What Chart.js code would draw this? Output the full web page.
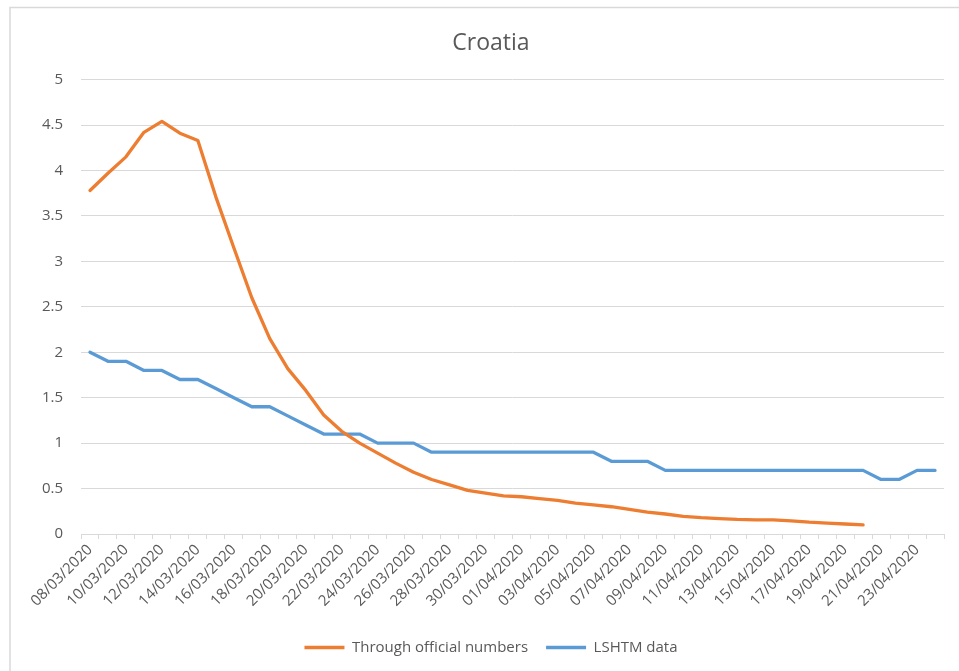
<!DOCTYPE html>
<html>
<head>
<meta charset="utf-8">
<script src="https://cdn.jsdelivr.net/npm/chart.js@4/dist/chart.umd.min.js"></script>
<style>
	html, body { margin: 0; padding: 0; background: #fff; }
	#wrap { width: 959px; height: 671px; }
</style>
</head>
<body>
<div id="wrap"><canvas id="chart" width="959" height="671"></canvas></div>
<script>
// ---- Data ----
const DATES = [
	"08/03/2020", "09/03/2020", "10/03/2020", "11/03/2020", "12/03/2020", "13/03/2020",
	"14/03/2020", "15/03/2020", "16/03/2020", "17/03/2020", "18/03/2020", "19/03/2020",
	"20/03/2020", "21/03/2020", "22/03/2020", "23/03/2020", "24/03/2020", "25/03/2020",
	"26/03/2020", "27/03/2020", "28/03/2020", "29/03/2020", "30/03/2020", "31/03/2020",
	"01/04/2020", "02/04/2020", "03/04/2020", "04/04/2020", "05/04/2020", "06/04/2020",
	"07/04/2020", "08/04/2020", "09/04/2020", "10/04/2020", "11/04/2020", "12/04/2020",
	"13/04/2020", "14/04/2020", "15/04/2020", "16/04/2020", "17/04/2020", "18/04/2020",
	"19/04/2020", "20/04/2020", "21/04/2020", "22/04/2020", "23/04/2020", "24/04/2020",
];

const OFFICIAL = [
	3.78, 3.97, 4.15, 4.42, 4.54, 4.41, 4.33, 3.71, 3.15, 2.6,
	2.15, 1.82, 1.58, 1.31, 1.13, 1.0, 0.89, 0.78, 0.68, 0.6,
	0.54, 0.48, 0.45, 0.42, 0.41, 0.39, 0.37, 0.34, 0.32, 0.3,
	0.27, 0.24, 0.22, 0.195, 0.18, 0.17, 0.16, 0.155, 0.155, 0.145,
	0.13, 0.12, 0.11, 0.1, null, null, null, null,
];

const LSHTM = [
	2.0, 1.9, 1.9, 1.8, 1.8, 1.7, 1.7, 1.6, 1.5, 1.4,
	1.4, 1.3, 1.2, 1.1, 1.1, 1.1, 1.0, 1.0, 1.0, 0.9,
	0.9, 0.9, 0.9, 0.9, 0.9, 0.9, 0.9, 0.9, 0.9, 0.8,
	0.8, 0.8, 0.7, 0.7, 0.7, 0.7, 0.7, 0.7, 0.7, 0.7,
	0.7, 0.7, 0.7, 0.7, 0.6, 0.6, 0.7, 0.7,
];

const TITLE = "Croatia";
const SERIES_NAMES = ["Through official numbers", "LSHTM data"];
const Y_MIN = 0;
const Y_MAX = 5;
const Y_STEP = 0.5;

// ---- Style ----
const FONT = "'Open Sans', 'DejaVu Sans', sans-serif";
const TEXT = "#595959";
const GRID = "#d9d9d9";
const ORANGE = "#ED7D31";
const BLUE = "#5B9BD5";

// borde del area del grafico (solo se ve arriba y a la izquierda)
const chartBorder = {
	id: "chartBorder",
	beforeDraw(chart) {
		const ctx = chart.ctx;
		ctx.save();
		ctx.fillStyle = "#fff";
		ctx.fillRect(0, 0, chart.width, chart.height);
		ctx.strokeStyle = GRID;
		ctx.lineWidth = 1.5;
		ctx.beginPath();
		ctx.moveTo(10, chart.height);
		ctx.lineTo(10, 7.5);
		ctx.lineTo(chart.width, 7.5);
		ctx.stroke();
		ctx.restore();
	},
};

const lineDs = (label, data, color) => ({
	label,
	data,
	borderColor: color,
	backgroundColor: color,
	borderWidth: 3.3,
	pointRadius: 0,
	pointHoverRadius: 0,
	pointStyle: "line",
	tension: 0,
	spanGaps: false,
	borderCapStyle: "round",
	borderJoinStyle: "round",
});

new Chart(document.getElementById("chart"), {
	type: "line",
	data: {
		labels: DATES,
		datasets: [
			lineDs(SERIES_NAMES[0], OFFICIAL, ORANGE),
			lineDs(SERIES_NAMES[1], LSHTM, BLUE),
		],
	},
	options: {
		responsive: false,
		animation: false,
		devicePixelRatio: 1,
		// el titulo y la leyenda van un poco a la derecha del centro del lienzo
		layout: { padding: { left: 38, right: 15, top: 0, bottom: 6 } },
		plugins: {
			title: {
				display: true,
				text: TITLE,
				color: TEXT,
				font: { family: FONT, size: 23, weight: "normal" },
				padding: { top: 30, bottom: 22 },
			},
			legend: {
				position: "bottom",
				labels: {
					color: TEXT,
					font: { family: FONT, size: 15 },
					usePointStyle: true,
					pointStyleWidth: 40,
					padding: 18,
				},
			},
			tooltip: { enabled: false },
		},
		scales: {
			x: {
				offset: true,
				grid: {
					offset: true,
					drawOnChartArea: false,
					drawTicks: true,
					tickLength: 5,
					color: GRID,
				},
				border: { color: GRID, width: 1 },
				ticks: {
					autoSkip: false,
					maxRotation: 45,
					minRotation: 45,
					padding: 2,
					color: TEXT,
					font: { family: FONT, size: 15 },
					callback: (v, i) => (i % 2 === 0 ? DATES[i] : ""),
				},
				afterFit: (s) => { s.height = 88; },
			},
			y: {
				min: Y_MIN,
				max: Y_MAX,
				grid: { color: GRID, drawTicks: false },
				border: { display: false },
				ticks: {
					stepSize: Y_STEP,
					padding: 18,
					color: TEXT,
					font: { family: FONT, size: 15 },
					callback: (v) => String(v),
				},
				afterFit: (s) => { s.width = 43; },
			},
		},
	},
	plugins: [chartBorder],
});
</script>
</body>
</html>
